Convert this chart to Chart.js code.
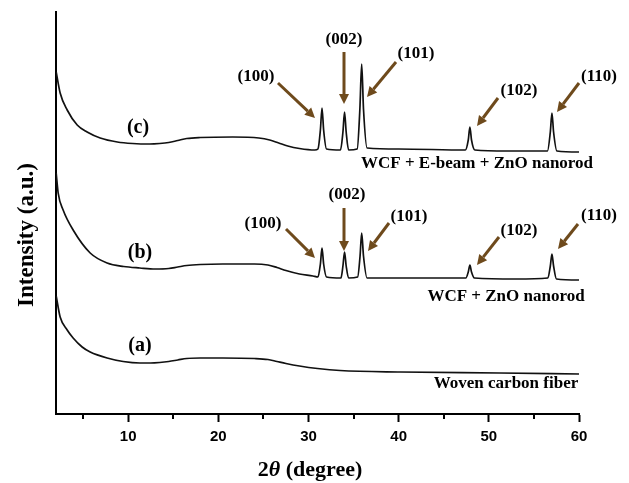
<!DOCTYPE html>
<html>
<head>
<meta charset="utf-8">
<script src="https://cdn.jsdelivr.net/npm/chart.js@4.4.1/dist/chart.umd.min.js"></script>
<style>
html,body{margin:0;padding:0;background:#fff;}
#wrap{width:629px;height:483px;position:relative;}
</style>
</head>
<body>
<div id="wrap"><canvas id="c" width="629" height="483"></canvas></div>
<script>
// ---- data (2θ in degrees, intensity in arbitrary units) ----
const xTickLabels = [10, 20, 30, 40, 50, 60];
const xMinorTicks = [5, 15, 25, 35, 45, 55];
const seriesNames = ['Woven carbon fiber', 'WCF + ZnO nanorod', 'WCF + E-beam + ZnO nanorod'];

const curveA = [
  [2.02,118],[2.46,97],[3.24,84],[3.9,76],[4.9,67],[5.79,62],[7.67,56],[9.45,52.5],
  [11.3,51],[12.5,51],[13.5,51.5],[14.5,52.5],[15.5,54],[16.5,55.5],[18,56],[20.5,56],
  [24,55.5],[25.5,54.5],[26.5,52.5],[27.5,50.5],[29,48],[31,45.5],
  [33.5,43.5],[40.2,42],[51.2,41],[60,40]
];

const curveB = [
  [2.02,241],[2.24,221],[2.79,204],[3.9,184],[5.79,161],[7.67,151],[9.5,147.5],[11.3,146],
  [13,145],[14.5,145.5],[15.5,147],[16.5,148.5],[18,149.5],[20.5,150],[24,150],
  [25.5,149],[26.5,146.5],[27.5,143.5],[29,140],[30.5,138],[31.05,137],
  [31.32,150],[31.5,166],[31.68,150],[32.0,137],
  [33.6,136],[33.82,148],[34.0,162],[34.18,148],[34.45,136],
  [35.45,137],[35.72,158],[35.9,181],[36.1,158],[36.5,136],
  [40,136],[47.45,136],[47.72,142],[47.9,149],[48.08,142],[48.4,136],
  [53,135],[56.55,136],[56.82,148],[57.0,160],[57.18,148],[57.5,135],[60,134]
];

const curveC = [
  [2.02,342],[2.46,321],[3.24,304],[4.35,289],[5.45,282],[6.9,276],[8.8,272],
  [10.5,270.5],[12.4,270],[13.5,270.5],[14.5,271.5],[15.5,273.5],[16.5,275.5],[18,276.5],
  [21.6,277],[24.5,276],[25.7,274],[26.7,271],[27.7,268],[29,265.5],[30.7,264],
  [31.05,265],[31.32,284],[31.5,306],[31.68,284],[32.0,265],
  [33.55,264],[33.82,282],[34.0,302],[34.18,282],[34.45,264],
  [35.4,265],[35.7,305],[35.9,350],[36.1,305],[36.5,266],
  [40,265],[47.4,264],[47.72,274],[47.9,287],[48.08,274],[48.45,264],
  [52,263],[56.5,263],[56.82,282],[57.0,301],[57.18,282],[57.55,263],[60,262]
];

const toXY = arr => arr.map(p => ({x: p[0], y: p[1]}));

// ---- annotations plugin ----
const SERIF = '"Liberation Serif", "Times New Roman", serif';
const BROWN = '#6e4a1c';

function arrow(ctx, x1, y1, x2, y2) {
  const ang = Math.atan2(y2 - y1, x2 - x1);
  const hl = 10, hw = 5;
  const bx = x2 - hl * Math.cos(ang), by = y2 - hl * Math.sin(ang);
  ctx.save();
  ctx.strokeStyle = BROWN; ctx.fillStyle = BROWN; ctx.lineWidth = 3; ctx.lineCap = 'butt';
  ctx.beginPath(); ctx.moveTo(x1, y1); ctx.lineTo(bx, by); ctx.stroke();
  ctx.beginPath();
  ctx.moveTo(x2, y2);
  ctx.lineTo(bx + hw * Math.sin(ang), by - hw * Math.cos(ang));
  ctx.lineTo(bx - hw * Math.sin(ang), by + hw * Math.cos(ang));
  ctx.closePath(); ctx.fill();
  ctx.restore();
}

const peakNotes = [
  // label, labelX, labelY, arrow start x,y, arrow end x,y
  ['(100)', 256, 77, 278, 83, 315, 118],
  ['(002)', 344, 40, 344, 52, 344, 104],
  ['(101)', 416, 54, 396, 62, 367, 97],
  ['(102)', 519, 91, 498, 98, 477, 126],
  ['(110)', 599, 77, 579, 83, 557, 112],
  ['(100)', 263, 224, 286, 229, 315, 258],
  ['(002)', 347, 195, 344, 208, 344, 251],
  ['(101)', 409, 217, 389, 223, 368, 251],
  ['(102)', 519, 231, 499, 237, 477, 265],
  ['(110)', 599, 216, 578, 224, 558, 249]
];

const annot = {
  id: 'annot',
  afterDraw(chart) {
    const ctx = chart.ctx;
    const xs = chart.scales.x;
    const bottom = chart.chartArea.bottom;
    // minor ticks
    ctx.save();
    ctx.strokeStyle = '#000'; ctx.lineWidth = 2;
    xMinorTicks.forEach(v => {
      const px = Math.round(xs.getPixelForValue(v));
      ctx.beginPath(); ctx.moveTo(px, bottom); ctx.lineTo(px, bottom + 5); ctx.stroke();
    });
    ctx.restore();

    ctx.save();
    ctx.fillStyle = '#000';
    ctx.textAlign = 'center'; ctx.textBaseline = 'middle';
    // curve letters
    ctx.font = 'bold 20px ' + SERIF;
    ctx.fillText('(c)', 138, 128);
    ctx.fillText('(b)', 140, 253);
    ctx.fillText('(a)', 140, 346);
    // series names
    ctx.font = 'bold 17px ' + SERIF;
    ctx.fillText(seriesNames[2], 477, 164);
    ctx.fillText(seriesNames[1], 506, 297);
    ctx.fillText(seriesNames[0], 506, 384);
    // peak labels
    ctx.font = 'bold 17px ' + SERIF;
    peakNotes.forEach(n => {
      ctx.fillText(n[0], n[1], n[2]);
      arrow(ctx, n[3], n[4], n[5], n[6]);
    });
    // x title: 2θ (degree)
    ctx.textAlign = 'left';
    const f = 'bold 22px ' + SERIF;
    const fi = 'bold italic 22px ' + SERIF;
    ctx.font = f; const w1 = ctx.measureText('2').width;
    ctx.font = fi; const w2 = ctx.measureText('θ').width;
    ctx.font = f; const w3 = ctx.measureText(' (degree)').width;
    let x0 = 310 - (w1 + w2 + w3) / 2;
    const ty = 470;
    ctx.font = f; ctx.fillText('2', x0, ty);
    ctx.font = fi; ctx.fillText('θ', x0 + w1, ty);
    ctx.font = f; ctx.fillText(' (degree)', x0 + w1 + w2, ty);
    // y title
    ctx.translate(27, 235);
    ctx.rotate(-Math.PI / 2);
    ctx.textAlign = 'center';
    ctx.font = 'bold 23px ' + SERIF;
    ctx.fillText('Intensity (a.u.)', 0, 0);
    ctx.restore();
  }
};

new Chart(document.getElementById('c'), {
  type: 'line',
  data: {
    datasets: [curveA, curveB, curveC].map((d, i) => ({
      label: seriesNames[i],
      data: toXY(d),
      borderColor: '#111',
      borderWidth: 1.7,
      pointRadius: 0,
      fill: false,
      cubicInterpolationMode: 'monotone'
    }))
  },
  options: {
    responsive: false,
    animation: false,
    layout: { padding: { left: 56, top: 12, right: 50, bottom: 0 } },
    plugins: { legend: { display: false }, tooltip: { enabled: false } },
    scales: {
      x: {
        type: 'linear', min: 2, max: 60,
        afterFit: s => { s.height = 69; },
        afterBuildTicks: s => { s.ticks = xTickLabels.map(v => ({ value: v })); },
        grid: { display: true, drawOnChartArea: false, drawTicks: true, tickLength: 8, tickWidth: 2, tickColor: '#000' },
        border: { display: true, color: '#000', width: 2 },
        ticks: { color: '#000', padding: 6, font: { family: '"Liberation Sans", Arial, sans-serif', size: 15, weight: 'bold' }, maxRotation: 0 }
      },
      y: {
        type: 'linear', min: 0, max: 402,
        afterFit: s => { s.width = 0; },
        grid: { display: false },
        border: { display: true, color: '#000', width: 2 },
        ticks: { display: false }
      }
    }
  },
  plugins: [annot]
});
</script>
</body>
</html>
